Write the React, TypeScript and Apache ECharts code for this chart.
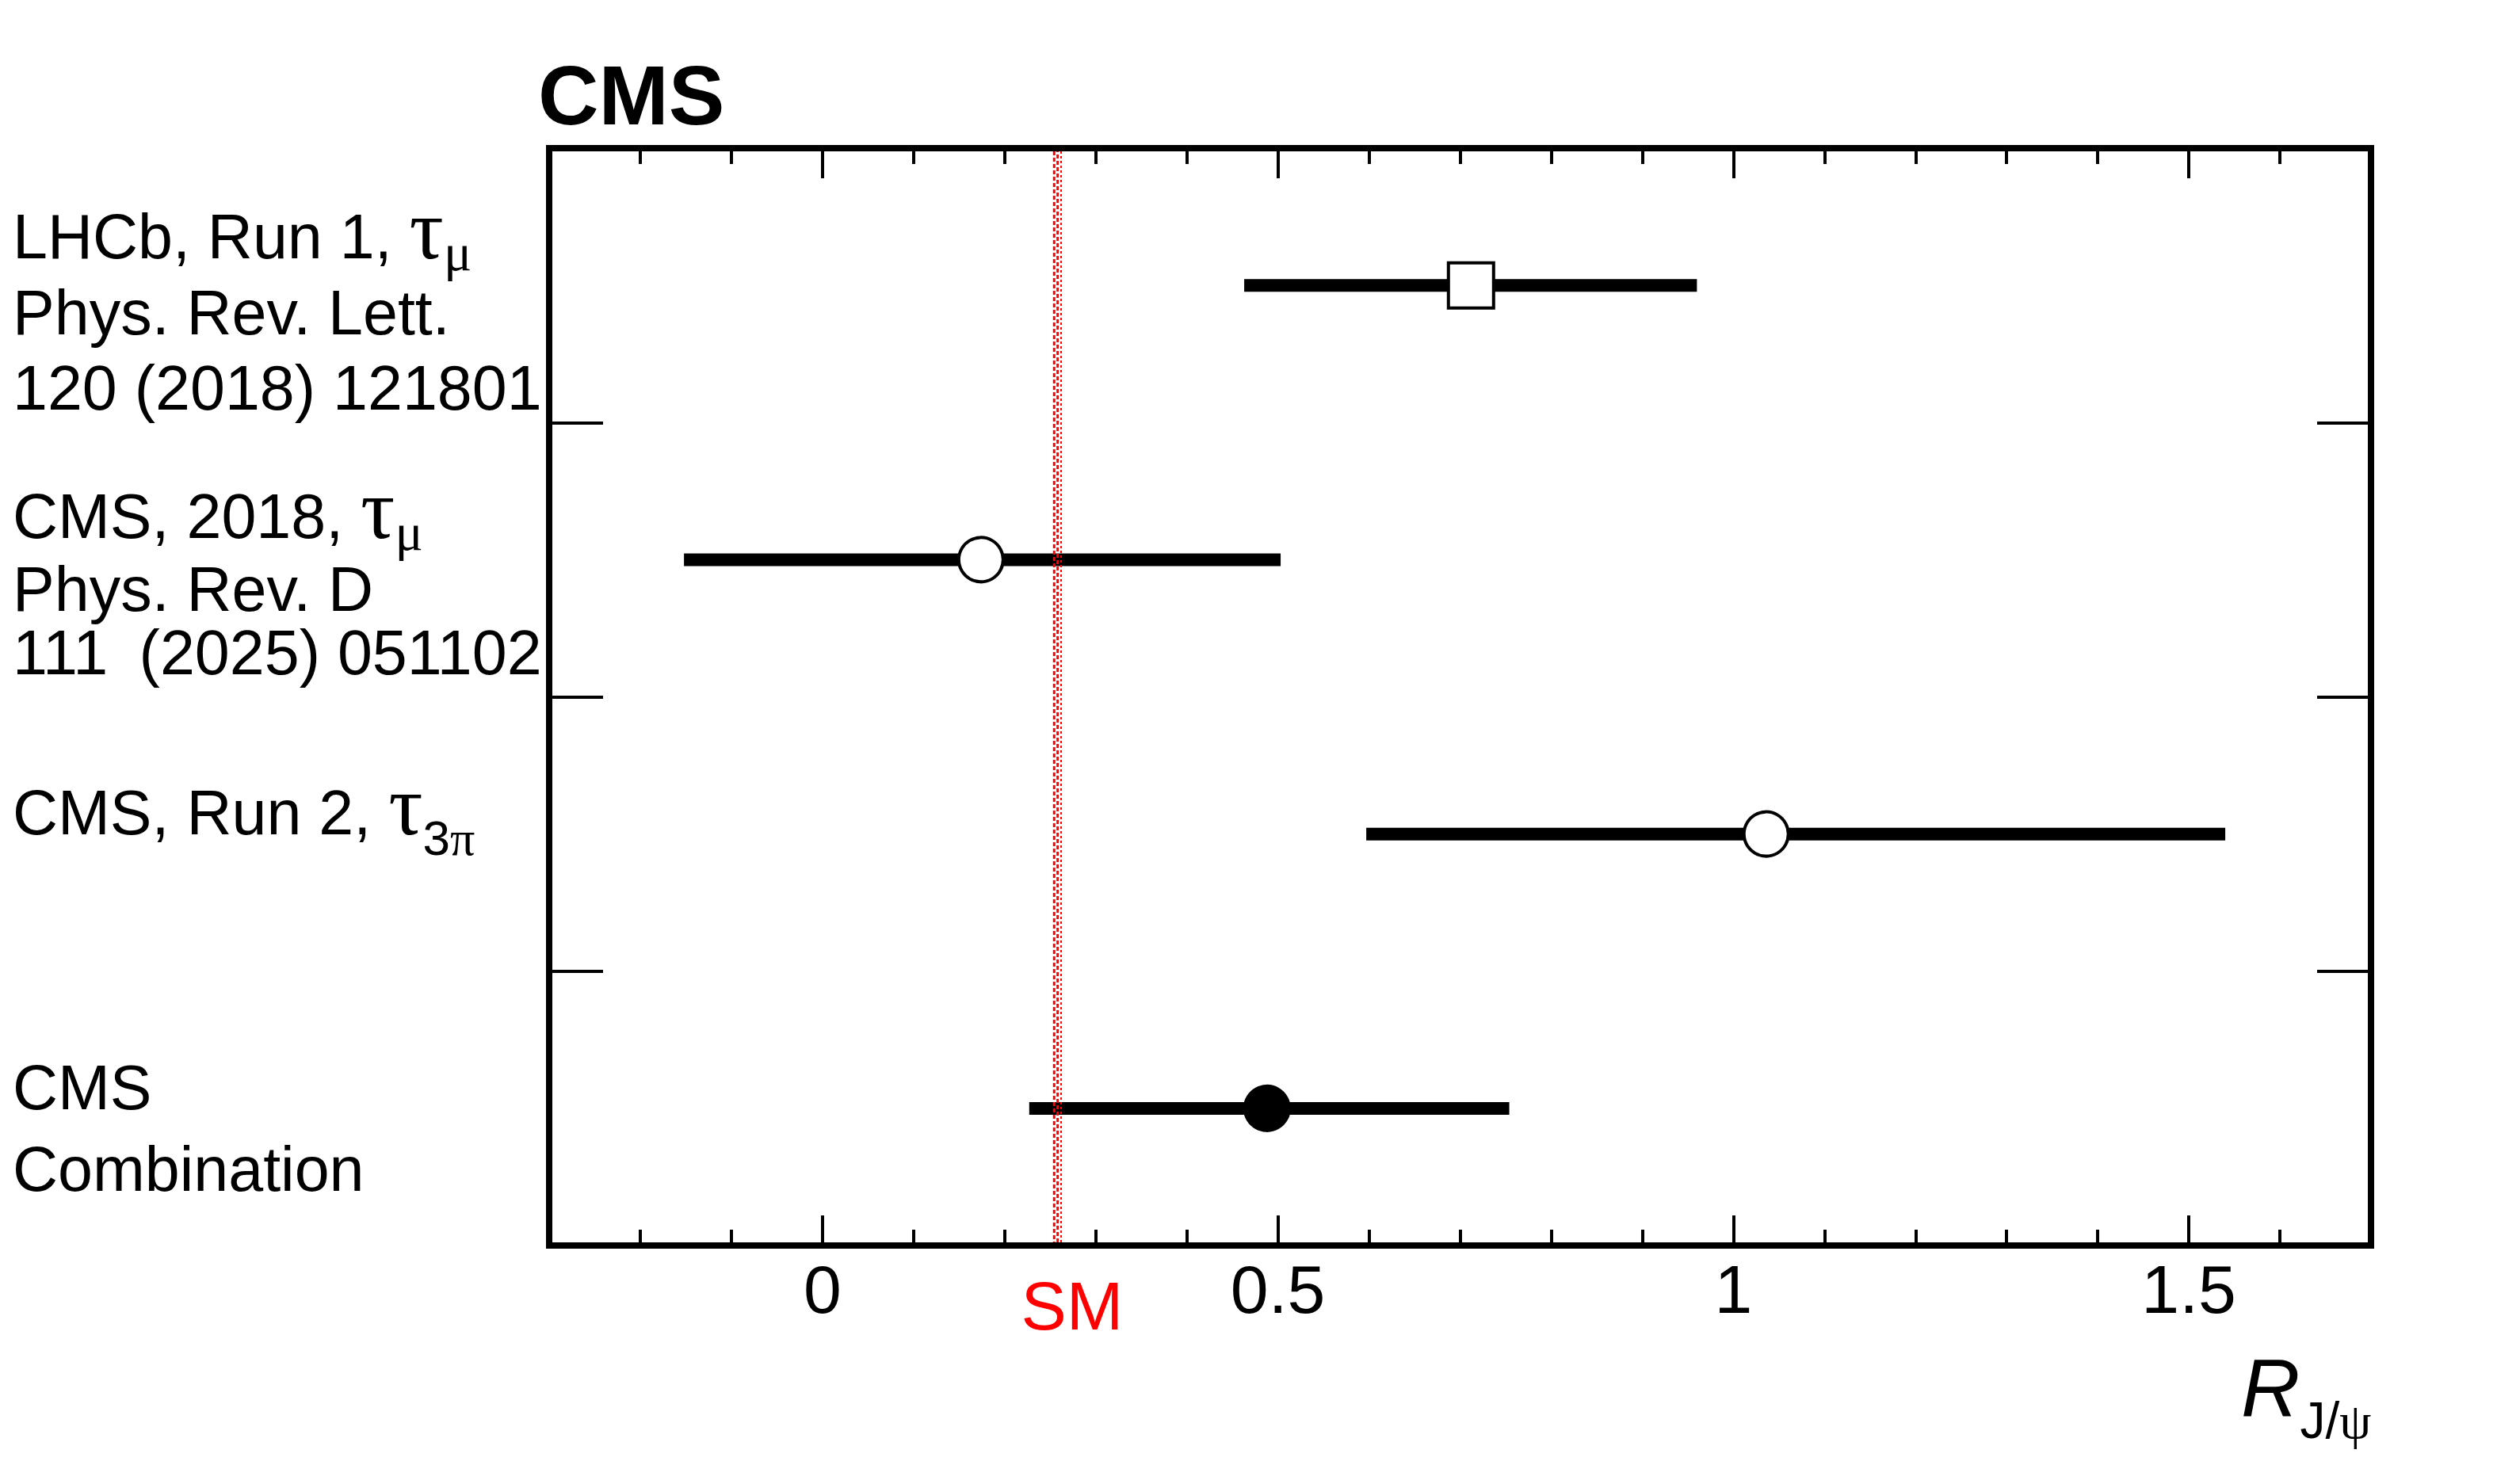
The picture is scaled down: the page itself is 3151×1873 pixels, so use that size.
import React, { useEffect, useRef } from "react";
import * as echarts from "echarts";

// ---------------- data ----------------
const CATEGORIES = ["LHCb, Run 1, τμ", "CMS, 2018, τμ", "CMS, Run 2, τ3π", "CMS Combination"];
const CENTRAL = [0.712, 0.174, 1.036, 0.488];
const ERR_LOW = [0.463, -0.152, 0.597, 0.227];
const ERR_HIGH = [0.96, 0.503, 1.54, 0.754];
const MARKER_SHAPE = ["rect", "circle", "circle", "circle"];
const MARKER_FILLED = [false, false, false, true];
const SM_VALUE = 0.2582;
const SM_UNCERTAINTY = 0.0038;
const X_MIN = -0.3;
const X_MAX = 1.7;
const MINOR_STEP = 0.1;
const MAJOR_TICKS = [0, 0.5, 1, 1.5];
const TICK_LABELS = ["0", "0.5", "1", "1.5"];

type Run = { t: string; greek?: boolean; sub?: boolean };
const ROW_LABELS: Run[][][] = [
  [
    [{ t: "LHCb, Run 1, " }, { t: "τ", greek: true }, { t: "μ", greek: true, sub: true }],
    [{ t: "Phys. Rev. Lett." }],
    [{ t: "120 (2018) 121801" }],
  ],
  [
    [{ t: "CMS, 2018, " }, { t: "τ", greek: true }, { t: "μ", greek: true, sub: true }],
    [{ t: "Phys. Rev. D" }],
    [{ t: "111\u2002(2025) 051102" }],
  ],
  [[{ t: "CMS, Run 2, " }, { t: "τ", greek: true }, { t: "3", sub: true }, { t: "π", greek: true, sub: true }]],
  [[{ t: "CMS" }], [{ t: "Combination" }]],
];
const TITLE = "CMS";
const SM_LABEL = "SM";
const AXIS_TITLE_MAIN = "R";
const AXIS_TITLE_SUB: Run[] = [{ t: "J/", sub: true }, { t: "ψ", greek: true, sub: true }];

// ---------------- layout ----------------
const W = 3151;
const H = 1873;
const GRID = { left: 693, top: 187, width: 2299, height: 1385 };
const FONT_SANS = '"Liberation Sans", Arial, Helvetica, sans-serif';
const FONT_SERIF = '"Liberation Serif", "Times New Roman", serif';
const LABEL_SIZE = 79;
const GREEK_MAIN_SIZE = 108;
const ROW_SUB_SIZE = [66, 66, 62, 62];
const ROW_SUB_SHIFT = [15, 15, 26, 0];
const LABEL_X = 16;
const LABEL_BASELINES = [[326, 422, 517], [679, 771, 851], [1053], [1400, 1503]];
const AXIS_TITLE_SIZE = 103;
const AXIS_SUB_SIZE = 64;
const BAR_HALF = 8;
const SM_WIDTHS = [3, 3, 2];
const SM_DASHES = [[5, 3], [5, 3], [3, 3]];
const SM_OFFSETS = [0, 4, 0];

export default function App() {
  const ref = useRef<HTMLDivElement>(null);

  useEffect(() => {
    if (!ref.current) return;
    const chart = echarts.init(ref.current, undefined, { renderer: "svg" });

    const ctx = document.createElement("canvas").getContext("2d")!;
    const measure = (text: string, size: number, family: string, style = "normal", weight = "normal") => {
      ctx.font = `${style} ${weight} ${size}px ${family}`;
      return ctx.measureText(text).width;
    };
    const textEl = (
      text: string,
      x: number,
      baseline: number,
      size: number,
      family: string,
      opts: { color?: string; style?: string; weight?: string; align?: string } = {}
    ) => {
      const ratio = family === FONT_SERIF ? 0.3375 : 0.3467;
      return {
        type: "text",
        x,
        y: baseline - ratio * size,
        silent: true,
        z: 10,
        style: {
          text,
          fontSize: size,
          fontFamily: family,
          fontStyle: opts.style || "normal",
          fontWeight: opts.weight || "normal",
          fill: opts.color || "#000",
          align: opts.align || "left",
          textAlign: opts.align || "left",
          verticalAlign: "middle",
          textVerticalAlign: "middle",
        },
      };
    };
    const buildRuns = (runs: Run[], x0: number, baseline: number, size: number, subSize: number, subShift: number) => {
      let x = x0;
      const els: any[] = [];
      for (const r of runs) {
        const fs = r.sub ? subSize : r.greek ? GREEK_MAIN_SIZE : size;
        const fam = r.greek ? FONT_SERIF : FONT_SANS;
        const bl = r.sub ? baseline + subShift : baseline;
        els.push(textEl(r.t, x, bl, fs, fam));
        x += measure(r.t, fs, fam);
      }
      return els;
    };

    const graphics: any[] = [];
    ROW_LABELS.forEach((lines, row) => {
      lines.forEach((runs, li) => {
        graphics.push(
          ...buildRuns(runs, LABEL_X, LABEL_BASELINES[row][li], LABEL_SIZE, ROW_SUB_SIZE[row], ROW_SUB_SHIFT[row])
        );
      });
    });
    graphics.push(textEl(TITLE, 679, 157, 106, FONT_SANS, { weight: "bold" }));
    graphics.push(textEl(SM_LABEL, 1353, 1678, 86, FONT_SANS, { color: "#ff0000", align: "center" }));
    const rX = 2828;
    graphics.push(textEl(AXIS_TITLE_MAIN, rX, 1788, AXIS_TITLE_SIZE, FONT_SANS, { style: "italic" }));
    const rW = measure(AXIS_TITLE_MAIN, AXIS_TITLE_SIZE, FONT_SANS, "italic");
    {
      let x = rX + rW;
      for (const r of AXIS_TITLE_SUB) {
        const fam = r.greek ? FONT_SERIF : FONT_SANS;
        graphics.push(textEl(r.t, x, 1815, AXIS_SUB_SIZE, fam));
        x += measure(r.t, AXIS_SUB_SIZE, fam);
      }
    }

    const tickStyle = { color: "#000", width: 4 };
    const xBase = {
      type: "value",
      min: X_MIN,
      max: X_MAX,
      splitLine: { show: false },
      axisLine: { show: false, onZero: false },
    };
    const yBase = {
      type: "category",
      data: CATEGORIES,
      inverse: true,
      boundaryGap: true,
      axisLine: { show: false, onZero: false },
      splitLine: { show: false },
      axisLabel: { show: false },
      axisTick: { show: true, inside: true, length: 68, interval: 0, lineStyle: tickStyle },
    };

    const option: any = {
      animation: false,
      backgroundColor: "#fff",
      grid: {
        left: GRID.left,
        top: GRID.top,
        width: GRID.width,
        height: GRID.height,
        show: true,
        borderColor: "#000",
        borderWidth: 8,
        backgroundColor: "transparent",
      },
      xAxis: [
        {
          ...xBase,
          position: "bottom",
          interval: MINOR_STEP,
          axisTick: { show: true, inside: true, length: 20, lineStyle: tickStyle },
          axisLabel: {
            show: true,
            customValues: MAJOR_TICKS,
            formatter: (v: number) => {
              const i = MAJOR_TICKS.findIndex((m) => Math.abs(m - v) < 1e-9);
              return i >= 0 ? TICK_LABELS[i] : "";
            },
            margin: 12,
            fontSize: 86,
            lineHeight: 86,
            color: "#000",
            fontFamily: FONT_SANS,
          },
        },
        {
          ...xBase,
          position: "bottom",
          axisTick: { show: true, inside: true, length: 38, customValues: MAJOR_TICKS, lineStyle: tickStyle },
          axisLabel: { show: false },
        },
        {
          ...xBase,
          position: "top",
          interval: MINOR_STEP,
          axisTick: { show: true, inside: true, length: 20, lineStyle: tickStyle },
          axisLabel: { show: false },
        },
        {
          ...xBase,
          position: "top",
          axisTick: { show: true, inside: true, length: 38, customValues: MAJOR_TICKS, lineStyle: tickStyle },
          axisLabel: { show: false },
        },
      ],
      yAxis: [
        { ...yBase, position: "left" },
        { ...yBase, position: "right" },
      ],
      series: [
        {
          type: "custom",
          name: "uncertainty",
          xAxisIndex: 0,
          yAxisIndex: 0,
          z: 2,
          data: CATEGORIES.map((_, i) => [ERR_LOW[i], ERR_HIGH[i], i]),
          encode: { x: [0, 1], y: 2 },
          renderItem: (params: any, api: any) => {
            const a = api.coord([api.value(0), api.value(2)]);
            const b = api.coord([api.value(1), api.value(2)]);
            return {
              type: "rect",
              shape: { x: a[0], y: a[1] - BAR_HALF, width: b[0] - a[0], height: BAR_HALF * 2 },
              style: { fill: "#000" },
            };
          },
        },
        {
          type: "scatter",
          name: "measurement",
          xAxisIndex: 0,
          yAxisIndex: 0,
          z: 3,
          data: CATEGORIES.map((_, i) => ({
            value: [CENTRAL[i], i],
            symbol: MARKER_SHAPE[i],
            symbolSize: MARKER_SHAPE[i] === "rect" ? 57 : 56,
            itemStyle: {
              color: MARKER_FILLED[i] ? "#000" : "#fff",
              borderColor: "#000",
              borderWidth: 4,
              opacity: 1,
            },
          })),
        },
        {
          type: "custom",
          name: "SM",
          xAxisIndex: 0,
          yAxisIndex: 0,
          z: 4,
          data: [
            [SM_VALUE - SM_UNCERTAINTY, 0],
            [SM_VALUE, 0],
            [SM_VALUE + SM_UNCERTAINTY, 0],
          ],
          encode: { x: 0, y: 1 },
          renderItem: (params: any, api: any) => {
            const x = api.coord([api.value(0), 0])[0];
            const cs = params.coordSys;
            const i = params.dataIndex;
            return {
              type: "line",
              shape: { x1: x, y1: cs.y + 4, x2: x, y2: cs.y + cs.height - 4 },
              style: {
                stroke: "#ff0000",
                lineWidth: SM_WIDTHS[i],
                lineDash: SM_DASHES[i],
                lineDashOffset: SM_OFFSETS[i],
                fill: null,
              },
            };
          },
        },
      ],
      graphic: graphics,
    };

    chart.setOption(option);
    return () => chart.dispose();
  }, []);

  return (
    <div
      ref={ref}
      style={{ position: "fixed", left: 0, top: 0, width: W, height: H, background: "#fff" }}
    />
  );
}
